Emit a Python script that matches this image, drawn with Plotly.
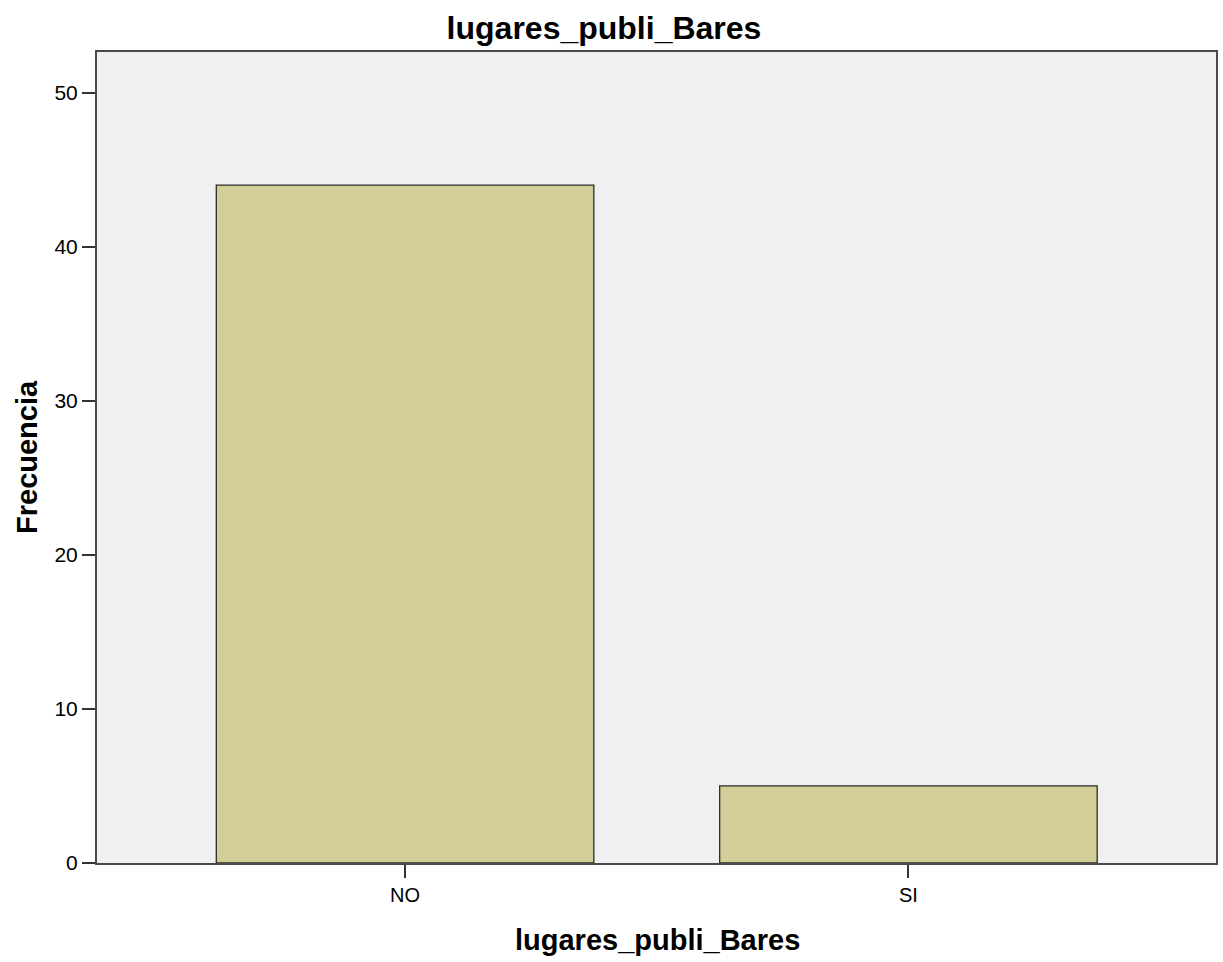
import plotly.graph_objects as go

# Frequency counts for the categorical variable
categories = ["NO", "SI"]
counts = [44, 5]
y_ticks = [0, 10, 20, 30, 40, 50]

W, H = 1223, 962
ML, MR, MT, MB = 97, 7, 52, 99

fig = go.Figure(
    go.Bar(
        x=categories,
        y=counts,
        width=0.75,
        marker=dict(color="#D3CD98", line=dict(color="#2B2B2B", width=1.3)),
        hoverinfo="x+y",
    )
)

font_family = "Liberation Sans, Arial, sans-serif"

fig.update_layout(
    width=W,
    height=H,
    margin=dict(l=ML, r=MR, t=MT, b=MB, autoexpand=False),
    paper_bgcolor="white",
    plot_bgcolor="#F0F0F0",
    showlegend=False,
    font=dict(family=font_family, color="#000000"),
    title=dict(
        text="<b>lugares_publi_Bares</b>",
        x=604 / W,
        xref="container",
        xanchor="center",
        y=1 - 28 / H,
        yref="container",
        yanchor="middle",
        font=dict(size=32, family=font_family, color="#000000"),
    ),
    xaxis=dict(
        range=[-0.612, 1.611],
        showgrid=False,
        zeroline=False,
        showline=True,
        linecolor="#4A4A4A",
        linewidth=2,
        mirror=True,
        ticks="outside",
        ticklen=13,
        tickwidth=1.5,
        tickcolor="#333333",
        tickfont=dict(size=20, family=font_family, color="#000000"),
    ),
    yaxis=dict(
        range=[0, 52.64],
        tickvals=y_ticks,
        showgrid=False,
        zeroline=False,
        showline=True,
        linecolor="#4A4A4A",
        linewidth=2,
        mirror=True,
        ticks="outside",
        ticklen=13,
        tickwidth=1.5,
        tickcolor="#333333",
        tickfont=dict(size=21, family=font_family, color="#000000"),
    ),
    annotations=[
        dict(
            text="<b>lugares_publi_Bares</b>",
            xref="paper",
            yref="paper",
            x=(657 - ML) / (W - ML - MR),
            y=-(940 - (H - MB)) / (H - MT - MB),
            xanchor="center",
            yanchor="middle",
            showarrow=False,
            font=dict(size=29, family=font_family, color="#000000"),
        ),
        dict(
            text="<b>Frecuencia</b>",
            xref="paper",
            yref="paper",
            x=-(ML - 27) / (W - ML - MR),
            y=1 - (457 - MT) / (H - MT - MB),
            xanchor="center",
            yanchor="middle",
            textangle=-90,
            showarrow=False,
            font=dict(size=29, family=font_family, color="#000000"),
        ),
    ],
)

fig.write_html("out.html")
